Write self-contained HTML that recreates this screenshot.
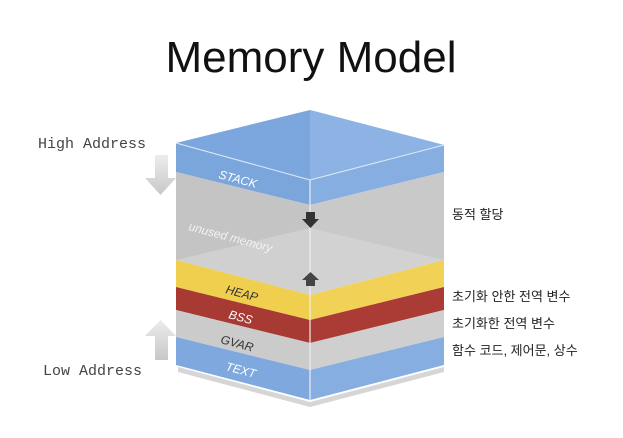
<!DOCTYPE html>
<html><head><meta charset="utf-8"><style>
body{margin:0;width:623px;height:433px;background:#fff;overflow:hidden}
</style></head><body>
<svg width="623" height="433" viewBox="0 0 623 433" xmlns="http://www.w3.org/2000/svg">
<defs>
<linearGradient id="ga" x1="0" y1="0" x2="0" y2="1"><stop offset="0" stop-color="#ececec"/><stop offset="1" stop-color="#c8c8c8"/></linearGradient>
</defs>
<text x="311" y="72" text-anchor="middle" font-family="Liberation Sans, sans-serif" font-size="44" fill="#111">Memory Model</text>
<polygon points="178,367 310,402 444,367 444,372 310,407 178,372" fill="#bbb" opacity="0.6"/>
<polygon points="176,143 310,180 310,205 176,172" fill="#7aa6dc"/>
<polygon points="176,172 310,205 310,295 176,260" fill="#c4c4c4"/>
<polygon points="176,260 310,295 310,320 176,287" fill="#f0cf4e"/>
<polygon points="176,287 310,320 310,343 176,310" fill="#a83a34"/>
<polygon points="176,310 310,343 310,370 176,337" fill="#cbcbcb"/>
<polygon points="176,337 310,370 310,400 176,365" fill="#7fa9de"/>
<polygon points="310,180 444,145 444,172 310,205" fill="#86aee0"/>
<polygon points="310,205 444,172 444,260 310,295" fill="#c9c9c9"/>
<polygon points="310,295 444,260 444,287 310,320" fill="#f1d257"/>
<polygon points="310,320 444,287 444,310 310,343" fill="#ab3b35"/>
<polygon points="310,343 444,310 444,337 310,370" fill="#cfcfcf"/>
<polygon points="310,370 444,337 444,365 310,400" fill="#86aee0"/>
<polygon points="176,260 310,228 444,260 310,295" fill="#d8d8d8" opacity="0.6"/>
<polygon points="176,143 310,110 444,145 310,180" fill="#7ba7de"/>
<polygon points="310,110 444,145 310,180" fill="#94b8e6" opacity="0.7"/>
<line x1="310" y1="180" x2="310" y2="400" stroke="#eee" stroke-width="1.2"/>
<line x1="176" y1="143" x2="310" y2="180" stroke="#dfe9f7" stroke-width="1"/>
<line x1="310" y1="180" x2="444" y2="145" stroke="#dfe9f7" stroke-width="1"/>
<g font-family="Liberation Sans, sans-serif" font-style="italic" font-size="12">
<text x="218" y="178" fill="#fff" transform="rotate(15 218 178)">STACK</text>
<text x="188" y="230" fill="#f2f2f2" transform="rotate(15 188 230)">unused memory</text>
<text x="225" y="293" fill="#333" transform="rotate(15 225 293)">HEAP</text>
<text x="228" y="318" fill="#fff" transform="rotate(15 228 318)">BSS</text>
<text x="220" y="343" fill="#333" transform="rotate(15 220 343)">GVAR</text>
<text x="225" y="370" fill="#fff" transform="rotate(15 225 370)">TEXT</text>
</g>
<polygon points="306,212 315,212 315,219 319,219 310.5,228 302,219 306,219" fill="#333"/>
<polygon points="306,286 315,286 315,280 319,280 310.5,272 302,280 306,280" fill="#444"/>
<polygon points="155,155 168,155 168,178 176,178 160.5,195 145,178 155,178" fill="url(#ga)"/>
<polygon points="155,360 168,360 168,336 176,336 160.5,320 145,336 155,336" fill="url(#ga)"/>
<g font-family="Liberation Mono, monospace" font-size="15" fill="#444">
<text x="38" y="148">High Address</text>
<text x="43" y="375">Low Address</text>
</g>
<g font-family="Liberation Sans, 'Noto Sans CJK KR', sans-serif" font-size="13" fill="#222">
<text x="452" y="219">동적 할당</text>
<text x="452" y="301">초기화 안한 전역 변수</text>
<text x="452" y="328">초기화한 전역 변수</text>
<text x="452" y="355">함수 코드, 제어문, 상수</text>
</g>
</svg>
</body></html>
